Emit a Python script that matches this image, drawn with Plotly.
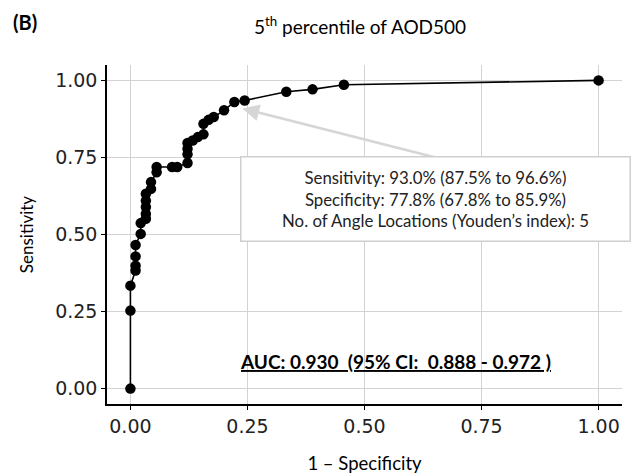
import plotly.graph_objects as go

# ROC curve points (1 - specificity, sensitivity)
fpr = [0.0, 0.0, 0.0, 0.011, 0.011, 0.011, 0.011, 0.022, 0.022, 0.033, 0.033, 0.033,
       0.033, 0.033, 0.044, 0.044, 0.056, 0.056, 0.089, 0.100, 0.122, 0.122, 0.122,
       0.122, 0.133, 0.144, 0.156, 0.156, 0.167, 0.178, 0.200, 0.222, 0.244, 0.333,
       0.389, 0.456, 1.0]
tpr = [0.0, 0.253, 0.334, 0.383, 0.399, 0.429, 0.466, 0.502, 0.537, 0.551, 0.567, 0.589,
       0.610, 0.632, 0.648, 0.670, 0.702, 0.719, 0.719, 0.719, 0.732, 0.760, 0.778,
       0.797, 0.805, 0.816, 0.825, 0.859, 0.872, 0.881, 0.903, 0.930, 0.935, 0.963,
       0.971, 0.986, 1.0]

tick_vals = [0.0, 0.25, 0.5, 0.75, 1.0]
tick_text = ["0.00", "0.25", "0.50", "0.75", "1.00"]

# Youden point / annotation anchors
youden_x, youden_y = 0.239, 0.909
box_x, box_y = 0.651, 0.615
box_top_y = 0.75
auc_x, auc_y = 0.567, 0.088

info_lines = ["Sensitivity: 93.0% (87.5% to 96.6%)",
              "Specificity: 77.8% (67.8% to 85.9%)",
              "No. of Angle Locations (Youden\u2019s index): 5"]
auc_text = "AUC: 0.930\u00a0\u00a0(95% CI:\u00a0\u00a00.888 - 0.972 )"

TXT = "Lato"
TICK = "DejaVu Sans"

fig = go.Figure()
fig.add_trace(go.Scatter(
    x=fpr, y=tpr, mode="lines+markers",
    line=dict(color="black", width=1.6),
    marker=dict(color="black", size=10.5),
    showlegend=False, hoverinfo="skip"))

axis_common = dict(
    range=[-0.05, 1.05], tickvals=tick_vals, ticktext=tick_text,
    showgrid=True, gridcolor="#d3d3d3", gridwidth=1,
    zeroline=False, showline=True, linecolor="black", linewidth=1.5,
    ticks="outside", ticklen=4, tickcolor="black", automargin=False,
    tickfont=dict(family=TICK, size=19, color="#222"),
)

fig.update_layout(
    width=633, height=474,
    margin=dict(l=107, r=11, t=65, b=70, autoexpand=False),
    plot_bgcolor="white", paper_bgcolor="white",
    xaxis=dict(**axis_common,
               title=dict(text="1 \u2013 Specificity", font=dict(family=TXT, size=18.5, color="black"), standoff=26)),
    yaxis=dict(**axis_common,
               title=dict(text="Sensitivity", font=dict(family=TXT, size=17, color="black"), standoff=17)),
)

# Arrow from box to Youden point
fig.add_annotation(x=youden_x, y=youden_y, ax=box_x, ay=box_top_y,
                   xref="x", yref="y", axref="x", ayref="y",
                   text="", showarrow=True, arrowhead=2, arrowsize=1.3,
                   arrowwidth=2.6, arrowcolor="#d6d6d6", standoff=0, startstandoff=0)

# Info box
fig.add_annotation(x=box_x, y=box_y, xref="x", yref="y",
                   text="<br>".join(info_lines), showarrow=False,
                   font=dict(family=TXT, size=16.8, color="#222"),
                   align="center", bgcolor="white", bordercolor="#cfcfcf",
                   borderwidth=1.5, borderpad=2, width=384, height=79)

# AUC text
fig.add_annotation(x=auc_x, y=auc_y, xref="x", yref="y",
                   text="<b><u>" + auc_text + "</u></b>", showarrow=False,
                   font=dict(family=TXT, size=19, color="black"))

# Title and panel label
fig.add_annotation(x=(360 - 107) / 515, y=1 + (65 - 25) / 339, xref="paper", yref="paper",
                   text="5<sup>th</sup> percentile of AOD500", showarrow=False,
                   font=dict(family=TXT, size=19, color="black"), xanchor="center", yanchor="middle")
fig.add_annotation(x=(25 - 107) / 515, y=1 + (65 - 22) / 339, xref="paper", yref="paper",
                   text="<b>(B)</b>", showarrow=False,
                   font=dict(family=TXT, size=20, color="black"), xanchor="center", yanchor="middle")

fig.write_html("out.html")
